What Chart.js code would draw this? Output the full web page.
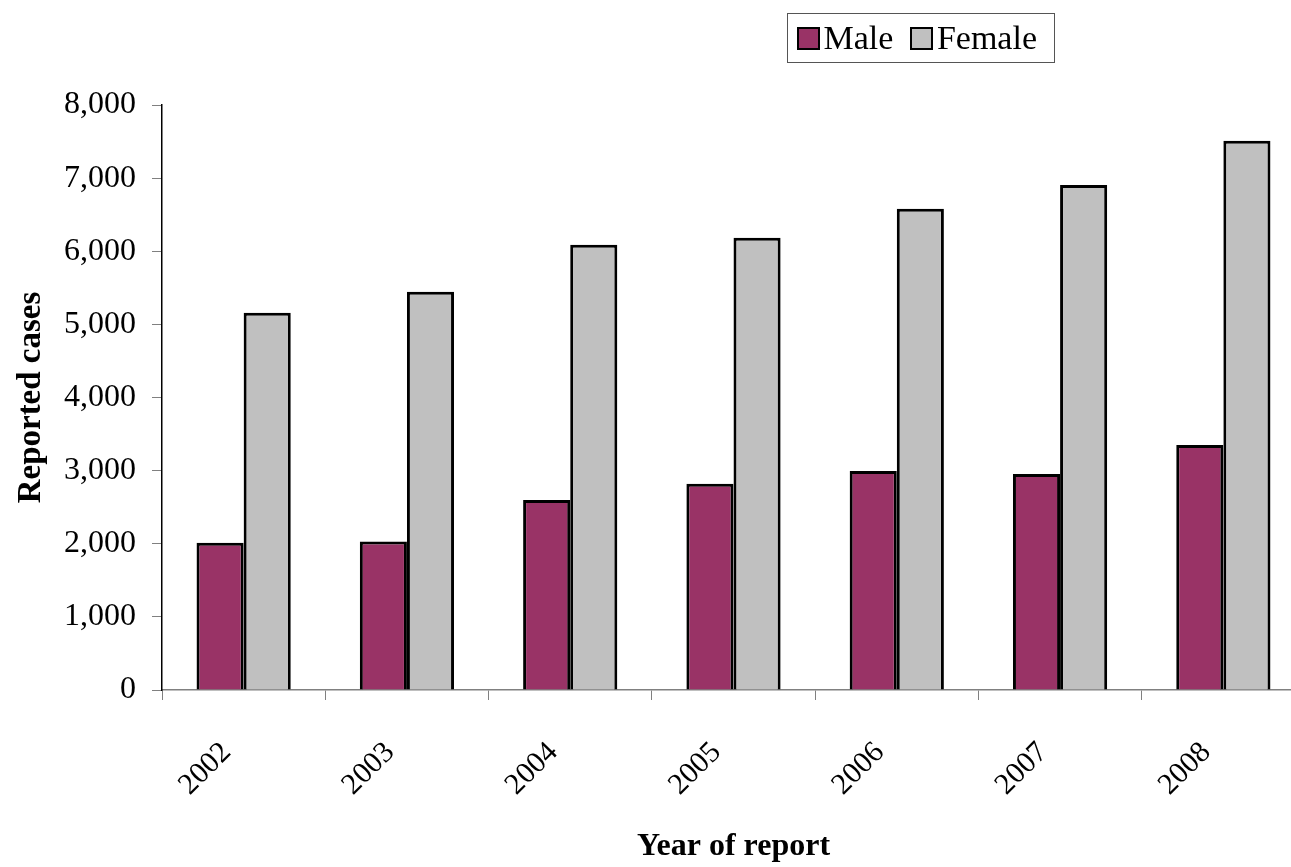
<!DOCTYPE html>
<html>
<head>
<meta charset="utf-8">
<script src="https://cdn.jsdelivr.net/npm/chart.js@4"></script>
<style>
  body { margin: 0; background: #fff; overflow: hidden; }
  #wrap { position: relative; width: 1305px; height: 867px; }
  #legend {
    position: absolute; left: 787px; top: 13px; width: 268px; height: 50px;
    border: 1.5px solid #555; font-family: "Liberation Serif", serif; font-size: 34px;
    display: flex; align-items: center; padding-left: 9px; box-sizing: border-box;
  }
  .sw { display: inline-block; width: 19px; height: 19px; border: 2.5px solid #000; margin-right: 4px; }
  .lab { margin-right: 17px; }
</style>
</head>
<body>
<div id="wrap">
  <canvas id="myChart" width="1305" height="867"></canvas>
  <div id="legend"></div>
</div>
<script>
let years = ["2002", "2003", "2004", "2005", "2006", "2007", "2008"];
let male = [2015, 2030, 2600, 2820, 2995, 2955, 3350];
let female = [5160, 5445, 6090, 6185, 6580, 6905, 7510];
let yTicks = [0, 1000, 2000, 3000, 4000, 5000, 6000, 7000, 8000];
let seriesNames = ["Male", "Female"];
let colores = ["#993366", "#C0C0C0"];

let fuente = "'Liberation Serif', serif";

// leyenda a mano, con marco como en el original
let legend = document.getElementById("legend");
seriesNames.forEach(function (n, i) {
  legend.innerHTML += '<span class="sw" style="background:' + colores[i] + '"></span><span class="lab">' + n + '</span>';
});

let myChart = document.getElementById("myChart");

const datasets = [
  { label: seriesNames[0], data: male, backgroundColor: colores[0], borderColor: "#000", borderWidth: 3 },
  { label: seriesNames[1], data: female, backgroundColor: colores[1], borderColor: "#000", borderWidth: 3 }
];

new Chart(myChart, {
  type: "bar",
  data: { labels: years, datasets },
  options: {
    responsive: false,
    animation: false,
    layout: { padding: { top: 105, right: 0, left: 0, bottom: 0 } },
    datasets: { bar: { barPercentage: 1, categoryPercentage: 0.577 } },
    plugins: { legend: { display: false }, tooltip: { enabled: false } },
    scales: {
      x: {
        afterFit: function (s) { s.height = 177; },
        grid: { display: true, drawOnChartArea: false, tickLength: 10, color: "#808080", offset: true },
        border: { color: "#808080", width: 1.5 },
        ticks: { color: "#000", font: { family: fuente, size: 30 }, minRotation: 45, maxRotation: 45, padding: 35, labelOffset: -17 },
        title: { display: true, text: "Year of report", color: "#000", font: { family: fuente, size: 32, weight: "bold" }, padding: { top: 0, bottom: 1 } }
      },
      y: {
        min: 0, max: 8000,
        afterFit: function (s) { s.width = 162; },
        afterBuildTicks: function (axis) { axis.ticks = yTicks.map(v => ({ value: v })); },
        grid: { display: true, drawOnChartArea: false, tickLength: 10, color: "#808080" },
        border: { color: "#000", width: 1.5 },
        ticks: {
          color: "#000", font: { family: fuente, size: 32 }, padding: 16,
          callback: v => v.toLocaleString("en-US")
        },
        title: { display: true, text: "Reported cases", color: "#000", font: { family: fuente, size: 33, weight: "bold" }, padding: { top: 12, bottom: 0 } }
      }
    }
  }
});
</script>
</body>
</html>
